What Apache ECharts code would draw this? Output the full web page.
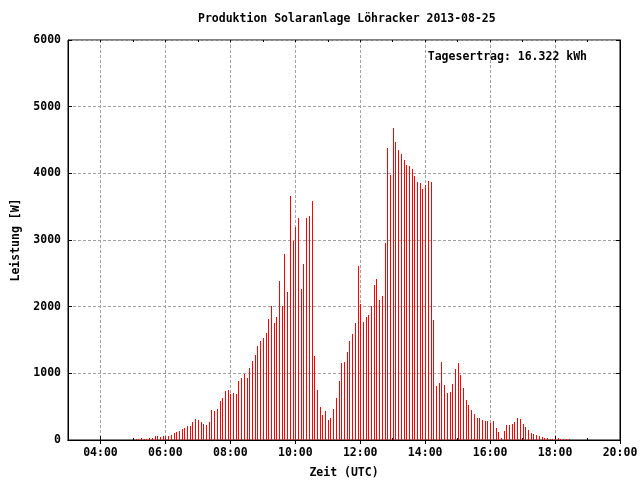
<!DOCTYPE html>
<html>
<head>
<meta charset="utf-8">
<script src="https://cdn.jsdelivr.net/npm/echarts@6/dist/echarts.min.js"></script>
<style>html,body{margin:0;padding:0;background:#fff}#c{width:640px;height:480px}</style>
</head>
<body>
<div id="c"></div>
<script>
const chartTitle = 'Produktion Solaranlage Löhracker 2013-08-25';
const yieldText = 'Tagesertrag: 16.322 kWh';
const xAxisName = 'Zeit (UTC)';
const yAxisName = 'Leistung [W]';
const xTickLabels = ['04:00','06:00','08:00','10:00','12:00','14:00','16:00','18:00','20:00'];
const yTickValues = [0,1000,2000,3000,4000,5000,6000];

const times = [
 '05:05','05:10','05:15','05:20','05:25','05:30','05:35','05:40','05:45','05:50','05:55',
 '06:00','06:05','06:10','06:15','06:20','06:25','06:30','06:35','06:40','06:45','06:50','06:55',
 '07:00','07:05','07:10','07:15','07:20','07:25','07:30','07:35','07:40','07:45','07:50','07:55',
 '08:00','08:05','08:10','08:15','08:20','08:25','08:30','08:35','08:40','08:45','08:50','08:55',
 '09:00','09:05','09:10','09:15','09:20','09:25','09:30','09:35','09:40','09:45','09:50','09:55',
 '10:00','10:05','10:10','10:15','10:20','10:25','10:30','10:35','10:40','10:45','10:50','10:55',
 '11:00','11:05','11:10','11:15','11:20','11:25','11:30','11:35','11:40','11:45','11:50','11:55',
 '12:00','12:05','12:10','12:15','12:20','12:25','12:30','12:35','12:40','12:45','12:50','12:55',
 '13:00','13:05','13:10','13:15','13:20','13:25','13:30','13:35','13:40','13:45','13:50','13:55',
 '14:00','14:05','14:10','14:15','14:20','14:25','14:30','14:35','14:40','14:45','14:50','14:55',
 '15:00','15:05','15:10','15:15','15:20','15:25','15:30','15:35','15:40','15:45','15:50','15:55',
 '16:00','16:05','16:10','16:15','16:20','16:25','16:30','16:35','16:40','16:45','16:50','16:55',
 '17:00','17:05','17:10','17:15','17:20','17:25','17:30','17:35','17:40','17:45','17:50','17:55',
 '18:00','18:05','18:10','18:15','18:20','18:25'
];
const power = [
 15,15,30,15,15,30,30,60,60,45,60,
 60,60,75,105,120,135,165,180,210,210,270,315,
 300,270,240,225,270,450,435,465,585,630,735,750,
 690,705,690,885,930,990,930,1080,1185,1275,1410,1485,
 1530,1605,1815,2010,1755,1845,2385,2010,2790,2220,3660,2985,
 3195,3330,2265,2640,3330,3360,3585,1260,750,495,375,435,
 300,330,465,630,885,1155,1170,1320,1485,1590,1755,2610,
 2040,1770,1845,1875,2010,2325,2415,2100,2160,2955,4380,3975,
 4680,4470,4350,4290,4200,4125,4110,4065,3960,3870,3855,3765,
 3825,3885,3870,1800,810,855,1170,825,705,720,840,1065,
 1155,975,780,600,525,450,390,330,330,300,285,285,
 255,285,180,120,30,135,225,225,240,270,330,315,
 240,195,150,105,90,75,60,45,30,30,15,15,
 15,30,15,15,15,15
];

function toMin(s){ const p = s.split(':'); return (+p[0])*60 + (+p[1]); }
const xMajor = xTickLabels.map(toMin);
const xMin = 180, xMax = 1200;
function fmt(v){ const h = Math.floor(v/60), m = v%60; return (h<10?'0':'')+h+':'+(m<10?'0':'')+m; }

const font = 'DejaVu Sans Mono';
const txt = {fontFamily: font, fontSize: 11.5, fontWeight: 'bold', color: '#000'};
const grid = {left: 68, right: 20, top: 40, bottom: 40, show: true, borderColor: '#000', borderWidth: 1,
              containLabel: false, outerBoundsMode: 'none'};
const dashed = {show: true, lineStyle: {color: '#a0a0a0', type: [3, 2], width: 1}};
const blackLine = {show: true, lineStyle: {color: '#000', width: 1}};

const chart = echarts.init(document.getElementById('c'), null, {renderer: 'canvas'});
chart.setOption({
  animation: false,
  backgroundColor: '#fff',
  title: [
    {text: chartTitle, left: 193, top: 8, textStyle: Object.assign({}, txt)},
    {text: yieldText, right: 48, top: 46, textStyle: Object.assign({}, txt)}
  ],
  grid: grid,
  xAxis: [
    {type: 'value', position: 'bottom', min: xMin, max: xMax,
     name: xAxisName, nameLocation: 'middle', nameGap: 27, nameTextStyle: Object.assign({}, txt),
     axisLine: blackLine,
     axisTick: {show: true, inside: true, length: 4, customValues: xMajor, lineStyle: {color: '#000'}},
     axisLabel: Object.assign({customValues: xMajor, margin: 7, formatter: fmt, showMinLabel: true, showMaxLabel: true}, txt),
     splitLine: dashed},
    {type: 'value', position: 'top', min: xMin, max: xMax,
     axisLine: blackLine,
     axisTick: {show: true, inside: true, length: 4, customValues: xMajor, lineStyle: {color: '#000'}},
     axisLabel: {show: false}, splitLine: {show: false}},
    {type: 'value', position: 'bottom', min: xMin, max: xMax, interval: 60,
     axisLine: {show: false},
     axisTick: {show: true, inside: true, length: 2, lineStyle: {color: '#000'}},
     axisLabel: {show: false}, splitLine: {show: false}},
    {type: 'value', position: 'top', min: xMin, max: xMax, interval: 60,
     axisLine: {show: false},
     axisTick: {show: true, inside: true, length: 2, lineStyle: {color: '#000'}},
     axisLabel: {show: false}, splitLine: {show: false}}
  ],
  yAxis: [
    {type: 'value', position: 'left', min: yTickValues[0], max: yTickValues[yTickValues.length-1], interval: 1000,
     name: yAxisName, nameLocation: 'middle', nameGap: 46, nameRotate: 90, nameTextStyle: Object.assign({}, txt),
     axisLine: blackLine,
     axisTick: {show: true, inside: true, length: 4, lineStyle: {color: '#000'}},
     axisLabel: Object.assign({margin: 7, formatter: v => String(v)}, txt),
     splitLine: dashed},
    {type: 'value', position: 'right', min: yTickValues[0], max: yTickValues[yTickValues.length-1], interval: 1000,
     axisLine: blackLine,
     axisTick: {show: true, inside: true, length: 4, lineStyle: {color: '#000'}},
     axisLabel: {show: false}, splitLine: {show: false}}
  ],
  series: [{
    type: 'custom', xAxisIndex: 0, yAxisIndex: 0,
    renderItem: function (params, api) {
      const top = api.coord([api.value(0), api.value(1)]);
      const base = api.coord([api.value(0), 0]);
      const x = Math.round(top[0]);
      const y1 = Math.round(top[1]);
      const y0 = Math.round(base[1]);
      return {type: 'rect', shape: {x: x, y: y1, width: 1, height: y0 - y1},
              style: {fill: '#ff0000'}};
    },
    encode: {x: 0, y: 1},
    data: times.map((t, i) => [toMin(t), power[i]])
  }]
});
</script>
</body>
</html>
